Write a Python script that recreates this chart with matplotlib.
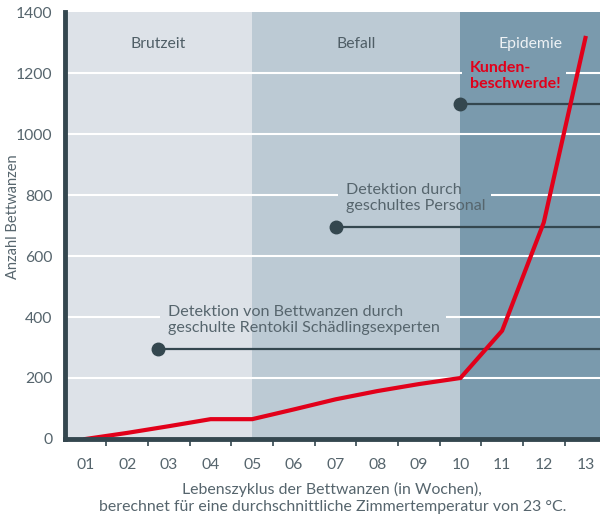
import matplotlib.pyplot as plt
from matplotlib.patches import Rectangle

plt.rcParams['font.family'] = ['Lato', 'DejaVu Sans']

weeks = ['01', '02', '03', '04', '05', '06', '07', '08', '09', '10', '11', '12', '13']
bugs = [0, 20, 42, 65, 65, 97, 130, 157, 180, 200, 355, 710, 1315]

phase_names = ['Brutzeit', 'Befall', 'Epidemie']
phase_start = [-0.5, 4, 9]
phase_end = [4, 9, 12.35]
phase_colors = ['#dde2e8', '#bccad4', '#7a9aad']
phase_text = ['#4f5e66', '#4f5e66', '#eef2f5']

# annotation dots and their text
ann_dot_x = [1.73, 6.0, 9.0]
ann_dot_y = [295, 695, 1100]
ann_text_x = [1.97, 6.24, 9.22]
ann_text_y = [400, 800, 1200]
ann_texts = ['Detektion von Bettwanzen durch\ngeschulte Rentokil Schädlingsexperten',
             'Detektion durch\ngeschultes Personal',
             'Kunden-\nbeschwerde!']

dark = '#34474f'
red = '#e2001a'
grey = '#56656d'

fig = plt.figure(figsize=(6, 5.15), dpi=100)
ax = fig.add_axes([0.108, 0.1476, 0.892, 0.829])

x = list(range(len(weeks)))

for x0, x1, c in zip(phase_start, phase_end, phase_colors):
    ax.axvspan(x0, x1, color=c, zorder=0, lw=0)
for name, x0, x1, tc in zip(phase_names, phase_start, phase_end, phase_text):
    ax.text((x0 + x1) / 2, 1295, name, ha='center', va='center', fontsize=11.3, color=tc, zorder=4)

for gy in range(200, 1400, 200):
    ax.axhline(gy, color='white', lw=1.5, zorder=1)

texts = []
for i in range(3):
    ax.plot([ann_dot_x[i], phase_end[-1]], [ann_dot_y[i], ann_dot_y[i]], color=dark, lw=1.6, zorder=2)
    ax.plot(ann_dot_x[i], ann_dot_y[i], 'o', color=dark, ms=9, zorder=2.5)
    if i == 2:
        t = ax.annotate(ann_texts[i], xy=(ann_text_x[i], ann_text_y[i]), xytext=(0, 9),
                        textcoords='offset points', va='top', ha='left', fontsize=11.5,
                        color=red, fontweight='bold', linespacing=1.2, zorder=4)
    else:
        t = ax.annotate(ann_texts[i], xy=(ann_text_x[i], ann_text_y[i]), xytext=(0, 9),
                        textcoords='offset points', va='top', ha='left', fontsize=11.6,
                        color=grey, linespacing=1.2, zorder=4)
    texts.append(t)

ax.plot(x, bugs, color=red, lw=3, zorder=3, solid_joinstyle='miter')

ax.set_xlim(-0.5, 12.35)
ax.set_ylim(0, 1400)
ax.set_xticks(x)
ax.set_xticklabels(weeks)
ax.set_xticks([i + 0.5 for i in x[:-1]], minor=True)
ax.tick_params(axis='x', which='major', length=0, pad=14, labelsize=11.3, labelcolor=grey)
ax.tick_params(axis='x', which='minor', length=5, width=1.2, color=dark, direction='out')
ax.set_yticks(range(0, 1401, 200))
ax.tick_params(axis='y', length=0, pad=9, labelsize=11.3, labelcolor=grey)

for s in ['top', 'right']:
    ax.spines[s].set_visible(False)
for s in ['left', 'bottom']:
    ax.spines[s].set_color(dark)
    ax.spines[s].set_linewidth(3.5)
    ax.spines[s].set_zorder(5)

ax.set_ylabel('Anzahl Bettwanzen', fontsize=10.5, color=grey)
ax.yaxis.set_label_coords(-0.083, 0.52)
ax.set_xlabel('Lebenszyklus der Bettwanzen (in Wochen),\nberechnet für eine durchschnittliche Zimmertemperatur von 23 °C.',
              fontsize=11.4, color=grey, labelpad=7, linespacing=1.25)

# break the white grid lines behind the annotation texts
fig.canvas.draw()
inv = ax.transData.inverted()
for t in texts:
    bb = t.get_window_extent()
    (bx0, by0), (bx1, by1) = inv.transform([(bb.x0 - 8, bb.y0), (bb.x1 + 6, bb.y1)])
    for x0, x1, c in zip(phase_start, phase_end, phase_colors):
        p = ax.axvspan(x0, x1, color=c, zorder=1.5, lw=0)
        clip = Rectangle((bx0, by0), bx1 - bx0, by1 - by0, transform=ax.transData)
        p.set_clip_path(clip)

fig.savefig('out.png', dpi=100)
